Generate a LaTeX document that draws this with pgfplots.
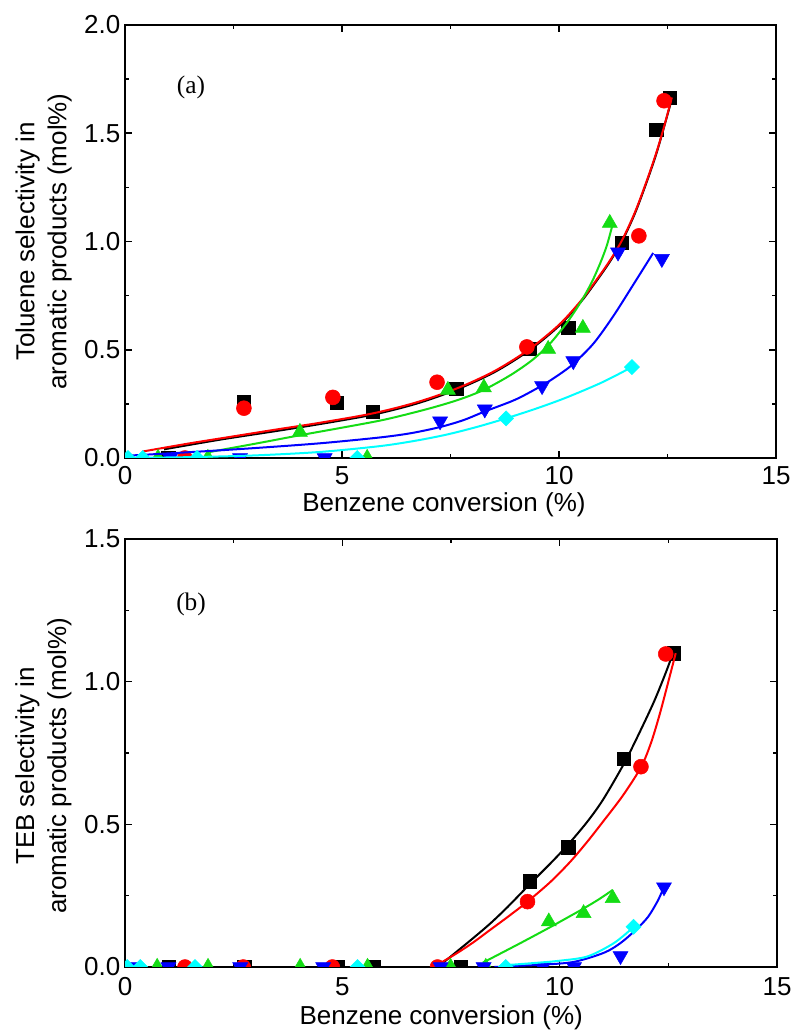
\documentclass[border=0pt]{standalone}
\usepackage{pgfplots}
\pgfplotsset{compat=1.18}
\usepackage{fontspec}
\setmainfont{Liberation Sans}
\newfontfamily\timesfont{Liberation Serif}
\definecolor{cgreen}{RGB}{20,220,20}
\definecolor{ccyan}{RGB}{0,255,255}
\pgfplotsset{
  myax/.style={
    scale only axis,
    xmin=0,xmax=15,
    xtick={0,5,10,15},
    minor xtick={2.5,7.5,12.5},
    tick align=inside,
    axis line style={line width=1.8pt},
    major tick length=5pt,
    minor tick length=3pt,
    every tick/.style={black,line width=1.2pt},
    clip marker paths=true,
    /pgf/number format/assume math mode=true,
    tick label style={font=\fontsize{19.5}{23}\selectfont},
    yticklabel style={/pgf/number format/fixed,/pgf/number format/fixed zerofill,/pgf/number format/precision=1},
  },
  pk/.style={only marks,mark=square*,mark size=5pt,black,mark options={draw=black,fill=black}},
  pr/.style={only marks,mark=*,mark size=5.6pt,red,mark options={draw=red,fill=red}},
  pg/.style={only marks,mark=triangle*,mark size=6.5pt,cgreen,mark options={draw=cgreen,fill=cgreen}},
  pb/.style={only marks,mark=triangle*,mark size=6.5pt,blue,mark options={draw=blue,fill=blue,rotate=180}},
  pc/.style={only marks,mark=square*,mark size=4pt,ccyan,mark options={draw=ccyan,fill=ccyan,rotate=45}},
  ln/.style={no marks,smooth,line width=1.5pt},
}
\begin{document}
\begin{tikzpicture}
\path[use as bounding box] (0,0) rectangle (595.5pt,772.5pt);
% ---------------- panel (a)
\begin{axis}[myax,
  at={(93.75pt,429pt)},anchor=south west,
  width=488.25pt,height=324.75pt,
  ymin=0,ymax=2,
  ytick={0,0.5,1,1.5,2},
  minor ytick={0.25,0.75,1.25,1.75},
  xticklabel style={anchor=base,yshift=-20.25pt},
  every axis x label/.style={at={(axis description cs:0.49,0)},anchor=base,yshift=-40pt,font=\fontsize{19.5}{24}\selectfont},
  every axis y label/.style={at={(axis description cs:-0.125,0.5)},anchor=center,rotate=90,align=center,font=\fontsize{19.5}{24}\selectfont},
  xlabel={Benzene conversion (\%)},
  ylabel={Toluene selectivity in\\aromatic products (mol\%)},
]
\addplot[pk] coordinates {(1.0,0) (2.74,0.26) (4.88,0.255) (5.71,0.215) (7.63,0.32) (9.33,0.505) (10.21,0.60) (11.45,0.995) (12.24,1.515) (12.55,1.665)};
\addplot[ln,black] coordinates {(0.9,0.04) (2.2,0.085) (3.5,0.125) (4.5,0.157) (5.71,0.2) (6.7,0.25) (7.63,0.315) (8.5,0.395) (9.3,0.495) (10.0,0.61) (10.5,0.72) (10.8,0.80) (11.15,0.9) (11.45,1.0) (11.75,1.13) (12.03,1.28) (12.25,1.41) (12.45,1.55) (12.63,1.68)};
\addplot[pr] coordinates {(1.38,0) (2.74,0.23) (4.79,0.28) (7.19,0.35) (9.26,0.513) (11.84,1.026) (12.42,1.65)};
\addplot[ln,red] coordinates {(0.41,0.03) (1.5,0.068) (2.5,0.1) (3.5,0.132) (4.5,0.163) (5.71,0.206) (6.7,0.256) (7.63,0.32) (8.5,0.40) (9.3,0.50) (10.0,0.615) (10.5,0.725) (10.8,0.805) (11.15,0.905) (11.45,1.005) (11.75,1.135) (12.03,1.285) (12.25,1.415) (12.42,1.53) (12.6,1.665)};
\addplot[pg] coordinates {(0.76,0) (1.91,0) (4.03,0.12) (5.58,0) (7.44,0.314) (8.27,0.325) (9.75,0.503) (10.55,0.60) (11.17,1.085)};
\addplot[ln,cgreen] coordinates {(1.96,0.028) (3.0,0.066) (4.03,0.105) (5.0,0.14) (6.0,0.178) (7.0,0.228) (7.7,0.27) (8.27,0.315) (8.9,0.385) (9.4,0.455) (9.8,0.53) (10.2,0.63) (10.5,0.72) (10.75,0.81) (10.95,0.9) (11.1,0.98) (11.22,1.067)};
\addplot[pb] coordinates {(1.04,0) (2.65,0) (4.6,0) (7.26,0.17) (8.29,0.225) (9.61,0.333) (10.33,0.448) (11.36,0.95) (12.37,0.92)};
\addplot[ln,blue] coordinates {(0,0.01) (1.5,0.027) (3,0.046) (4.5,0.068) (5.88,0.095) (6.6,0.115) (7.26,0.143) (7.8,0.175) (8.29,0.215) (9.0,0.27) (9.61,0.335) (10.0,0.385) (10.33,0.435) (10.8,0.53) (11.25,0.655) (11.71,0.8) (12.17,0.947)};
\addplot[pc] coordinates {(0.07,0) (0.41,0) (1.66,0) (5.35,0) (8.78,0.183) (11.68,0.42)};
\addplot[ln,ccyan] coordinates {(0,0) (1.5,0.004) (3,0.012) (4.5,0.028) (5.88,0.055) (6.7,0.08) (7.41,0.108) (8.1,0.143) (8.78,0.183) (9.5,0.23) (10.18,0.28) (11.0,0.35) (11.68,0.42)};
\node[font=\timesfont\fontsize{19}{21}\selectfont] at (axis cs:1.52,1.71) {(a)};
\end{axis}
% ---------------- panel (b)
\begin{axis}[myax,
  at={(93.75pt,47.25pt)},anchor=south west,
  width=489pt,height=321pt,
  ymin=0,ymax=1.5,
  ytick={0,0.5,1,1.5},
  minor ytick={0.25,0.75,1.25},
  xticklabel style={anchor=base,yshift=-21.75pt},
  every axis x label/.style={at={(axis description cs:0.485,0)},anchor=base,yshift=-43pt,font=\fontsize{19.5}{24}\selectfont},
  every axis y label/.style={at={(axis description cs:-0.125,0.47)},anchor=center,rotate=90,align=center,font=\fontsize{19.5}{24}\selectfont},
  xlabel={Benzene conversion (\%)},
  ylabel={TEB selectivity in\\aromatic products (mol\%)},
]
\addplot[pk] coordinates {(1.0,0) (2.74,0) (4.9,0) (5.71,0) (7.72,0) (9.31,0.30) (10.2,0.42) (11.47,0.73) (12.63,1.10)};
\addplot[ln,black] coordinates {(7.2,0) (7.6,0.05) (8.0,0.1) (8.4,0.152) (8.8,0.21) (9.31,0.29) (9.8,0.365) (10.2,0.43) (10.64,0.51) (11.0,0.587) (11.47,0.71) (11.8,0.81) (12.17,0.93) (12.45,1.035) (12.63,1.11)};
\addplot[pr] coordinates {(1.38,0) (2.72,0) (4.77,0) (7.19,0) (9.26,0.229) (11.87,0.702) (12.44,1.097)};
\addplot[ln,red] coordinates {(7.1,0) (7.6,0.045) (8.0,0.085) (8.4,0.13) (8.8,0.175) (9.26,0.229) (9.8,0.3) (10.25,0.37) (10.64,0.44) (11.0,0.51) (11.45,0.6) (11.87,0.70) (12.1,0.785) (12.3,0.885) (12.5,1.0) (12.67,1.10)};
\addplot[pg] coordinates {(0.74,0) (1.91,0) (4.03,0) (5.58,0) (7.49,0) (8.3,0) (9.75,0.159) (10.55,0.188) (11.22,0.241)};
\addplot[ln,cgreen] coordinates {(8.23,0.015) (9.1,0.084) (9.75,0.137) (10.2,0.175) (10.55,0.205) (10.9,0.237) (11.22,0.27)};
\addplot[pb] coordinates {(0.1,0) (1.0,0) (2.65,0) (4.56,0) (7.26,0) (8.25,0) (9.61,0) (10.33,0) (11.4,0.039) (12.4,0.28)};
\addplot[ln,blue] coordinates {(8.5,0.0) (9.0,0.004) (9.6,0.008) (10.33,0.018) (11.02,0.05) (11.4,0.084) (11.75,0.13) (12.03,0.175) (12.25,0.23) (12.37,0.27)};
\addplot[pc] coordinates {(0.05,0) (0.35,0) (1.61,0) (5.35,0) (8.76,0) (11.7,0.141)};
\addplot[ln,ccyan] coordinates {(8.64,0.005) (9.5,0.015) (10.0,0.022) (10.64,0.037) (11.25,0.084) (11.7,0.14)};
\node[font=\timesfont\fontsize{19}{21}\selectfont] at (axis cs:1.52,1.27) {(b)};
\end{axis}
\end{tikzpicture}
\end{document}
